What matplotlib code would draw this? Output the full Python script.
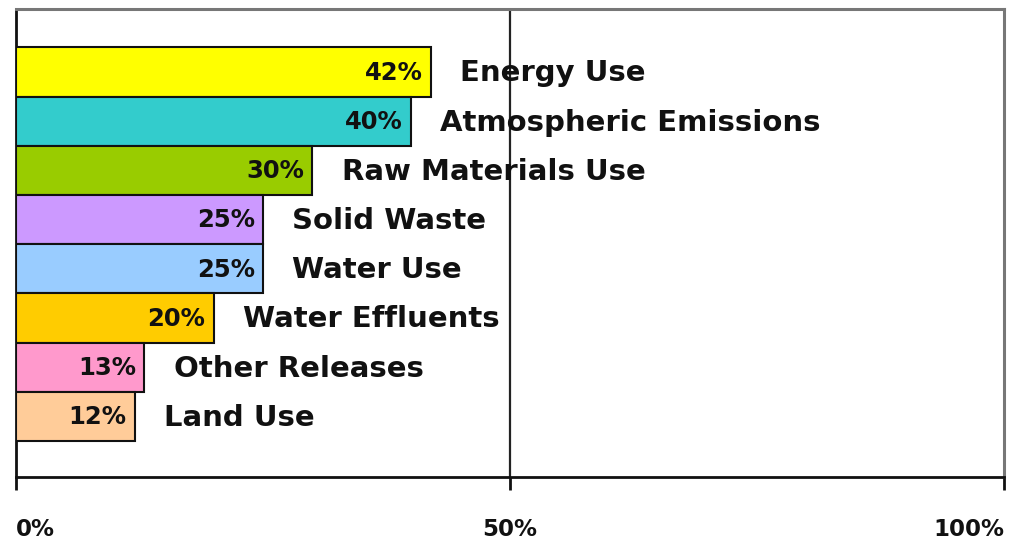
import matplotlib
matplotlib.use("Agg")
import matplotlib.pyplot as plt

categories = ["Energy Use", "Atmospheric Emissions", "Raw Materials Use", "Solid Waste",
              "Water Use", "Water Effluents", "Other Releases", "Land Use"]
values = [42, 40, 30, 25, 25, 20, 13, 12]
colors = ["#FFFF00", "#33CCCC", "#99CC00", "#CC99FF", "#99CCFF", "#FFCC00", "#FF99CC", "#FFCC99"]
tick_vals = [0, 50, 100]
tick_labels = ["0%", "50%", "100%"]

plt.rcParams['font.family'] = ['DejaVu Sans']

fig = plt.figure(figsize=(10.09, 5.43), dpi=100)
ax = fig.add_axes([16/1009, (543-477)/543, (1004-16)/1009, (477-9)/543])

n = len(categories)
ypos = list(range(n - 1, -1, -1))
ax.barh(ypos, values, height=1.0, color=colors, edgecolor="#111111", linewidth=1.5, zorder=3)

ax.set_xlim(0, 100)
ax.set_ylim(-1.23, n - 1 + 1.28)

ax.axvline(50, color="#222222", linewidth=1.6, zorder=1)

for y, v, c in zip(ypos, values, categories):
    ax.annotate(f"{v}%", xy=(v, y), xytext=(-6, -0.5), textcoords="offset points",
                ha="right", va="center", fontsize=17.5, fontweight="bold", color="#111111", zorder=4)
    ax.annotate(c, xy=(v, y), xytext=(21, -1), textcoords="offset points",
                ha="left", va="center", fontsize=21, fontweight="bold", color="#111111", zorder=4)

ax.set_yticks([])
ax.set_xticks(tick_vals)
ax.set_xticklabels(tick_labels, fontsize=16.5, fontweight="bold", color="#111111")
labs = ax.get_xticklabels()
labs[0].set_ha("left")
labs[1].set_ha("center")
labs[2].set_ha("right")
ax.tick_params(axis="x", direction="out", length=9.5, width=2, color="#111111", pad=20)

for s in ["left", "bottom"]:
    ax.spines[s].set_color("#111111")
    ax.spines[s].set_linewidth(2)
for s in ["top", "right"]:
    ax.spines[s].set_color("#777777")
    ax.spines[s].set_linewidth(2.2)

fig.savefig("out.png", dpi=100)
